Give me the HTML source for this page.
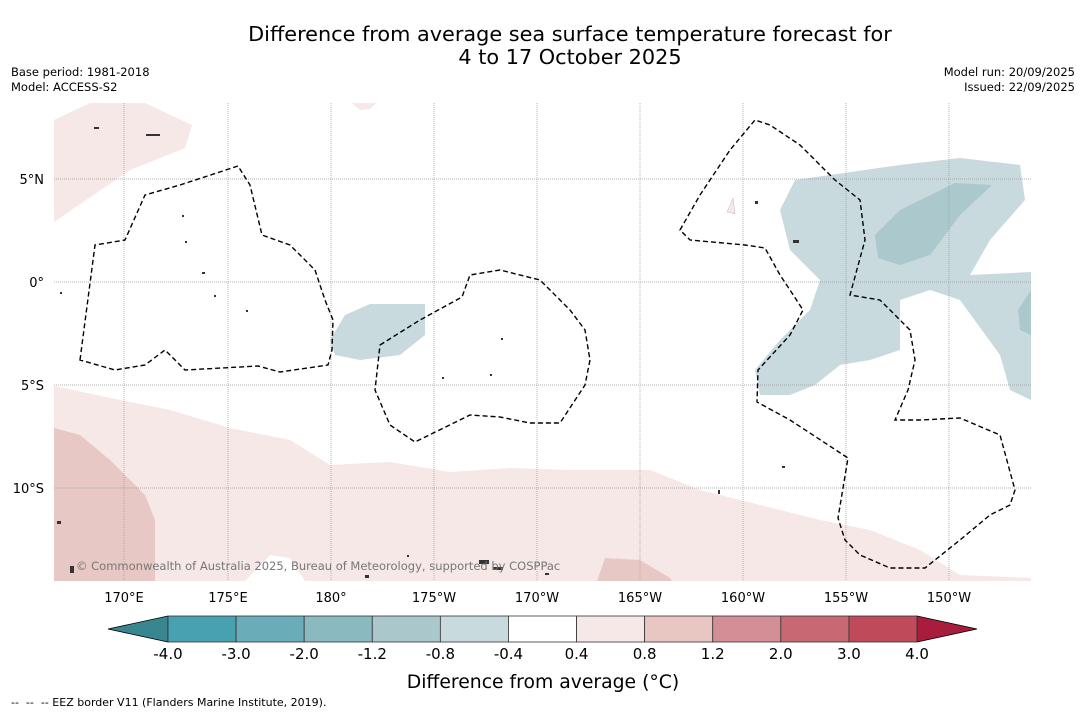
<!DOCTYPE html>
<html><head><meta charset="utf-8">
<style>
body{margin:0;background:#fff;width:1085px;height:713px;overflow:hidden;font-family:"DejaVu Sans","Liberation Sans",sans-serif;}
svg text{font-family:"DejaVu Sans","Liberation Sans",sans-serif;}
</style></head>
<body>
<svg width="1085" height="713">
<text x="570" y="41" font-size="20.8" text-anchor="middle">Difference from average sea surface temperature forecast for</text>
<text x="570" y="64" font-size="20.8" text-anchor="middle">4 to 17 October 2025</text>
<text x="11" y="76" font-size="11.5">Base period: 1981-2018</text>
<text x="11" y="91" font-size="11.5">Model: ACCESS-S2</text>
<text x="1075" y="76" font-size="11.5" text-anchor="end">Model run: 20/09/2025</text>
<text x="1075" y="91" font-size="11.5" text-anchor="end">Issued: 22/09/2025</text>

<defs><clipPath id="mc"><rect x="54" y="103" width="977" height="478"/></clipPath></defs>
<g clip-path="url(#mc)">
<path fill="#f5e8e6" d="M54,120 L90,103 L145,103 L192,125 L185,148 L130,170 L54,222Z"/>
<path fill="#f5e8e6" d="M54,386 L120,400 L170,410 L230,428 L290,440 L330,465 L390,462 L450,472 L510,468 L570,470 L650,470 L700,490 L760,505 L820,520 L870,530 L920,550 L960,575 L1031,578 L1031,581 L54,581Z"/>
<path fill="#e8c8c4" d="M54,428 L80,435 L110,460 L145,495 L155,520 L155,581 L54,581Z"/>
<path fill="#e8c8c4" d="M597,581 L605,558 L640,560 L670,578 L672,581Z"/>
<path fill="#fff" d="M245,581 L270,555 L290,558 L305,581Z"/>
<path fill="#f5e8e6" d="M352,103 L376,103 L370,109 L360,110Z"/>
<path fill="#c8dade" d="M755,370 L780,340 L810,310 L820,280 L790,250 L780,210 L795,180 L830,175 L900,165 L960,158 L1020,165 L1025,200 L990,240 L970,275 L1031,272 L1031,400 L1010,390 L1000,355 L960,300 L930,290 L900,300 L900,350 L870,360 L840,365 L815,385 L790,395 L760,395Z"/>
<path fill="#abc8cc" d="M875,235 L900,210 L955,183 L992,185 L960,215 L930,255 L900,265 L878,258Z M1018,310 L1031,290 L1031,335 L1020,330Z"/>
<path fill="#c8dade" d="M330,340 L345,315 L370,304 L425,304 L425,335 L400,355 L360,360 L335,355Z"/>
<g stroke="#999" stroke-width="0.7" stroke-dasharray="1,1">
<line x1="124" y1="103" x2="124" y2="581"/><line x1="228" y1="103" x2="228" y2="581"/><line x1="331" y1="103" x2="331" y2="581"/><line x1="434" y1="103" x2="434" y2="581"/><line x1="537" y1="103" x2="537" y2="581"/><line x1="640" y1="103" x2="640" y2="581"/><line x1="743" y1="103" x2="743" y2="581"/><line x1="846" y1="103" x2="846" y2="581"/><line x1="949" y1="103" x2="949" y2="581"/>
<line x1="54" y1="179" x2="1031" y2="179"/><line x1="54" y1="282" x2="1031" y2="282"/><line x1="54" y1="385" x2="1031" y2="385"/><line x1="54" y1="488" x2="1031" y2="488"/>
</g>
<g fill="none" stroke="#000" stroke-width="1.4" stroke-dasharray="5,3">
<path d="M80,360 L95,245 L125,240 L145,195 L180,185 L238,166 L250,185 L262,235 L290,245 L315,270 L325,300 L333,320 L332,350 L328,365 L280,372 L258,366 L185,370 L165,350 L145,365 L115,370Z"/>
<path d="M380,345 L420,320 L462,297 L470,275 L500,270 L540,280 L570,310 L585,330 L590,360 L585,385 L560,423 L530,423 L500,417 L470,415 L415,442 L390,425 L375,390Z"/>
<path d="M680,230 L700,195 L730,150 L755,120 L770,125 L800,145 L835,180 L860,200 L865,240 L850,295 L880,300 L910,330 L915,360 L908,390 L895,420 L920,420 L960,418 L1000,435 L1015,490 L1010,505 L990,515 L960,540 L925,568 L890,568 L860,555 L845,540 L838,518 L848,458 L790,420 L757,402 L758,370 L790,335 L803,310 L790,290 L780,275 L765,248 L745,245 L690,240Z"/>
</g>
<g fill="#333">
<rect x="146" y="134" width="14" height="2"/><rect x="94" y="127" width="5" height="2"/><rect x="479" y="560" width="10" height="4"/><rect x="493" y="567" width="10" height="3"/><rect x="57" y="521" width="4" height="3"/><rect x="70" y="566" width="4" height="7"/><rect x="793" y="240" width="6" height="3"/><rect x="755" y="201" width="3" height="3"/><rect x="182" y="215" width="2" height="2"/><rect x="185" y="241" width="2" height="2"/><rect x="202" y="272" width="3" height="2"/><rect x="214" y="295" width="2" height="2"/><rect x="246" y="310" width="2" height="2"/><rect x="501" y="338" width="2" height="2"/><rect x="490" y="374" width="2" height="2"/><rect x="442" y="377" width="2" height="2"/><rect x="407" y="555" width="2" height="2"/><rect x="545" y="573" width="4" height="2"/><rect x="782" y="466" width="3" height="2"/><rect x="718" y="490" width="2" height="4"/><rect x="60" y="292" width="2" height="2"/><rect x="365" y="575" width="4" height="3"/></g>
<path fill="#f5e8e6" stroke="#bbb" stroke-width="0.5" d="M727,212 L733,198 L735,214Z"/>
<text x="76" y="570" font-size="11.5" fill="#777">© Commonwealth of Australia 2025, Bureau of Meteorology, supported by COSPPac</text>
</g>

<g font-size="13" fill="#000">
<text x="44" y="184" text-anchor="end">5°N</text><text x="44" y="287" text-anchor="end">0°</text><text x="44" y="390" text-anchor="end">5°S</text><text x="44" y="493" text-anchor="end">10°S</text>
</g>
<g font-size="13" fill="#000" text-anchor="middle">
<text x="124" y="602">170°E</text><text x="228" y="602">175°E</text><text x="331" y="602">180°</text><text x="434" y="602">175°W</text><text x="537" y="602">170°W</text><text x="640" y="602">165°W</text><text x="743" y="602">160°W</text><text x="846" y="602">155°W</text><text x="949" y="602">150°W</text>
</g>
<g id="cbar"></g>
<text x="543" y="688" font-size="18.8" text-anchor="middle">Difference from average (°C)</text>
<text x="11" y="706" font-size="11" style="white-space:pre" xml:space="preserve">--  --  -- EEZ border V11 (Flanders Marine Institute, 2019).</text>
</svg>
<script>
const levels=["-4.0","-3.0","-2.0","-1.2","-0.8","-0.4","0.4","0.8","1.2","2.0","3.0","4.0"];
const colors=["#48a1b0","#6aadb9","#8bb9c0","#aac8cc","#c8dade","#ffffff","#f5e8e6","#e8c6c2","#d48f96","#c86872","#bf4a59"];
const extColors=["#3a8690","#a81c3c"];
const NS="http://www.w3.org/2000/svg";
const g=document.getElementById('cbar');
const x0=168,x1=917,y0=616,y1=642;
const w=(x1-x0)/colors.length;
function xs(i){return x0+i*w;}
const lt=document.createElementNS(NS,'polygon');
lt.setAttribute('points',`${x0},${y0} ${108},${(y0+y1)/2} ${x0},${y1}`);
lt.setAttribute('fill',extColors[0]);lt.setAttribute('stroke','#000');lt.setAttribute('stroke-width','0.8');


g.appendChild(lt);
const rt=document.createElementNS(NS,'polygon');
rt.setAttribute('points',`${x1},${y0} ${977},${(y0+y1)/2} ${x1},${y1}`);
rt.setAttribute('fill',extColors[1]);rt.setAttribute('stroke','#000');rt.setAttribute('stroke-width','0.8');


g.appendChild(rt);
colors.forEach((c,i)=>{
 const r=document.createElementNS(NS,'rect');
 r.setAttribute('x',xs(i));r.setAttribute('y',y0);r.setAttribute('width',w);r.setAttribute('height',y1-y0);
 r.setAttribute('fill',c);r.setAttribute('stroke','#333');r.setAttribute('stroke-width','0.8');
 
 
 g.appendChild(r);
});
levels.forEach((l,i)=>{
 const t=document.createElementNS(NS,'text');
 t.setAttribute('x',xs(i));t.setAttribute('y',659);t.setAttribute('font-size','15');t.setAttribute('text-anchor','middle');
 t.textContent=l;
 
 
 g.appendChild(t);
});
</script>
</body></html>
